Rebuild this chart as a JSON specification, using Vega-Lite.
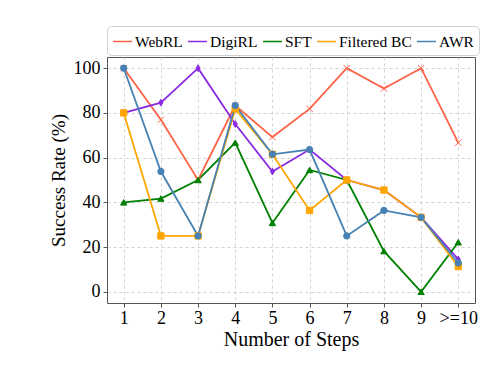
{
  "$schema": "https://vega.github.io/schema/vega-lite/v6.json",
  "width": 368,
  "height": 246,
  "autosize": {"type": "none"},
  "padding": {"left": 107, "top": 57, "right": 21, "bottom": 70},
  "background": "white",
  "config": {
    "font": "Liberation Serif",
    "view": {"stroke": "#555", "strokeWidth": 1}
  },
  "data": {
    "values": [
      {"step": 1, "method": "WebRL", "rate": 100},
      {"step": 2, "method": "WebRL", "rate": 76.9},
      {"step": 3, "method": "WebRL", "rate": 50},
      {"step": 4, "method": "WebRL", "rate": 83.3},
      {"step": 5, "method": "WebRL", "rate": 69.2},
      {"step": 6, "method": "WebRL", "rate": 81.8},
      {"step": 7, "method": "WebRL", "rate": 100},
      {"step": 8, "method": "WebRL", "rate": 90.9},
      {"step": 9, "method": "WebRL", "rate": 100},
      {"step": 10, "method": "WebRL", "rate": 66.7},
      {"step": 1, "method": "DigiRL", "rate": 80},
      {"step": 2, "method": "DigiRL", "rate": 84.6},
      {"step": 3, "method": "DigiRL", "rate": 100},
      {"step": 4, "method": "DigiRL", "rate": 75},
      {"step": 5, "method": "DigiRL", "rate": 53.8},
      {"step": 6, "method": "DigiRL", "rate": 63.6},
      {"step": 7, "method": "DigiRL", "rate": 50},
      {"step": 8, "method": "DigiRL", "rate": 45.5},
      {"step": 9, "method": "DigiRL", "rate": 33.3},
      {"step": 10, "method": "DigiRL", "rate": 14.5},
      {"step": 1, "method": "SFT", "rate": 40},
      {"step": 2, "method": "SFT", "rate": 41.7},
      {"step": 3, "method": "SFT", "rate": 50},
      {"step": 4, "method": "SFT", "rate": 66.7},
      {"step": 5, "method": "SFT", "rate": 30.8},
      {"step": 6, "method": "SFT", "rate": 54.5},
      {"step": 7, "method": "SFT", "rate": 50},
      {"step": 8, "method": "SFT", "rate": 18.2},
      {"step": 9, "method": "SFT", "rate": 0},
      {"step": 10, "method": "SFT", "rate": 22.2},
      {"step": 1, "method": "Filtered BC", "rate": 80},
      {"step": 2, "method": "Filtered BC", "rate": 25},
      {"step": 3, "method": "Filtered BC", "rate": 25},
      {"step": 4, "method": "Filtered BC", "rate": 81.8},
      {"step": 5, "method": "Filtered BC", "rate": 61.5},
      {"step": 6, "method": "Filtered BC", "rate": 36.4},
      {"step": 7, "method": "Filtered BC", "rate": 50},
      {"step": 8, "method": "Filtered BC", "rate": 45.5},
      {"step": 9, "method": "Filtered BC", "rate": 33.3},
      {"step": 10, "method": "Filtered BC", "rate": 11.3},
      {"step": 1, "method": "AWR", "rate": 100},
      {"step": 2, "method": "AWR", "rate": 53.8},
      {"step": 3, "method": "AWR", "rate": 25},
      {"step": 4, "method": "AWR", "rate": 83.3},
      {"step": 5, "method": "AWR", "rate": 61.5},
      {"step": 6, "method": "AWR", "rate": 63.6},
      {"step": 7, "method": "AWR", "rate": 25},
      {"step": 8, "method": "AWR", "rate": 36.4},
      {"step": 9, "method": "AWR", "rate": 33.3},
      {"step": 10, "method": "AWR", "rate": 12.9}
    ]
  },
  "encoding": {
    "x": {
      "field": "step",
      "type": "quantitative",
      "scale": {"domain": [0.55, 10.45], "nice": false, "zero": false},
      "axis": {
        "values": [1, 2, 3, 4, 5, 6, 7, 8, 9, 10],
        "labelExpr": "datum.value == 10 ? '>=10' : datum.value",
        "title": "Number of Steps",
        "titleFontSize": 20,
        "titleFontWeight": "normal",
        "titleColor": "black",
        "titlePadding": 2,
        "labelFontSize": 18,
        "labelColor": "black",
        "labelPadding": 2,
        "labelFlush": false,
        "tickSize": 4,
        "tickColor": "#555",
        "domain": false,
        "grid": true,
        "gridColor": "#c8c8c8",
        "gridDash": [3, 3],
        "gridWidth": 0.8
      }
    },
    "y": {
      "field": "rate",
      "type": "quantitative",
      "scale": {"domain": [-5, 105], "nice": false, "zero": false},
      "axis": {
        "values": [0, 20, 40, 60, 80, 100],
        "title": "Success Rate (%)",
        "titleFontSize": 19,
        "titleFontWeight": "normal",
        "titleColor": "black",
        "titlePadding": 5,
        "labelFontSize": 18,
        "labelColor": "black",
        "labelPadding": 3,
        "labelFlush": false,
        "tickSize": 4,
        "tickColor": "#555",
        "domain": false,
        "grid": true,
        "gridColor": "#c8c8c8",
        "gridDash": [3, 3],
        "gridWidth": 0.8
      }
    }
  },
  "layer": [
    {
      "mark": {"type": "line", "strokeWidth": 1.8},
      "encoding": {
        "color": {
          "field": "method",
          "type": "nominal",
          "scale": {
            "domain": ["WebRL", "DigiRL", "SFT", "Filtered BC", "AWR"],
            "range": ["#FF6347", "#8A2BE2", "#008000", "#FFA500", "#4682B4"]
          },
          "legend": {
            "title": null,
            "orient": "none",
            "legendX": 0,
            "legendY": -31,
            "direction": "horizontal",
            "symbolType": "stroke",
            "symbolSize": 361,
            "symbolStrokeWidth": 1.5,
            "labelFontSize": 15.5,
            "labelColor": "black",
            "labelOffset": 2,
            "columnPadding": 2,
            "padding": 5,
            "strokeColor": "#d0d0d0",
            "fillColor": "white",
            "cornerRadius": 4
          }
        }
      }
    },
    {
      "transform": [{"filter": "datum.method == 'WebRL'"}],
      "mark": {"type": "point", "shape": "M-1,-1L1,1M-1,1L1,-1", "filled": false, "stroke": "#FF6347", "opacity": 1, "size": 40, "strokeWidth": 1}
    },
    {
      "transform": [{"filter": "datum.method == 'DigiRL'"}],
      "mark": {"type": "point", "shape": "M0,-1L0.6,0L0,1L-0.6,0Z", "filled": true, "fill": "#8A2BE2", "stroke": "#8A2BE2", "opacity": 1, "size": 45, "strokeWidth": 1}
    },
    {
      "transform": [{"filter": "datum.method == 'SFT'"}],
      "mark": {"type": "point", "shape": "triangle-up", "filled": true, "fill": "#008000", "stroke": "#008000", "opacity": 1, "size": 40, "strokeWidth": 1}
    },
    {
      "transform": [{"filter": "datum.method == 'Filtered BC'"}],
      "mark": {"type": "point", "shape": "square", "filled": true, "fill": "#FFA500", "stroke": "#FFA500", "opacity": 1, "size": 40, "strokeWidth": 1}
    },
    {
      "transform": [{"filter": "datum.method == 'AWR'"}],
      "mark": {"type": "point", "shape": "circle", "filled": true, "fill": "#4682B4", "stroke": "#4682B4", "opacity": 1, "size": 40, "strokeWidth": 1}
    }
  ]
}
